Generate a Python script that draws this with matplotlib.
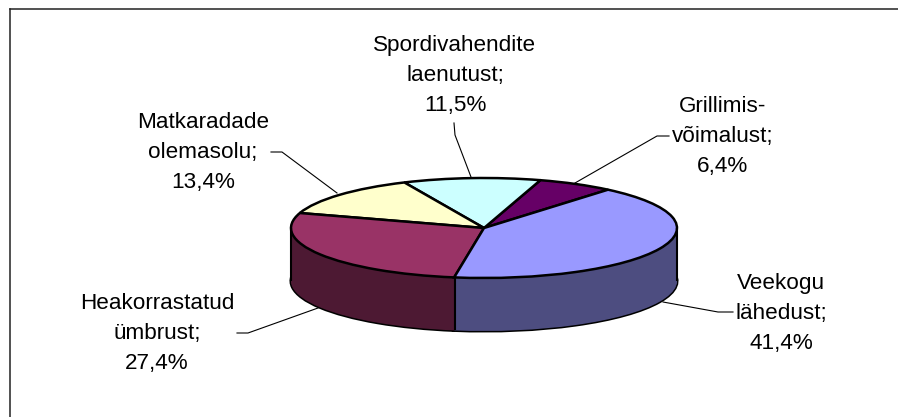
import numpy as np
import matplotlib
matplotlib.use('Agg')
import matplotlib.pyplot as plt
from matplotlib.lines import Line2D
from matplotlib.transforms import Affine2D

# andmed
kategooriad = ['Grillimis-\nvõimalust', 'Spordivahendite\nlaenutust', 'Matkaradade\nolemasolu',
               'Heakorrastatud\nümbrust', 'Veekogu\nlähedust']
osakaal = [6.4, 11.5, 13.4, 27.4, 41.4]
varvid = ['#660066', '#CCFFFF', '#FFFFCC', '#993366', '#9999FF']
kylg_varvid = ['#330033', '#668080', '#808066', '#4D1933', '#4D4D80']

W, H = 898, 417
CX, CY, RX, RY, SYGAVUS = 484, 228, 193, 50, 53

plt.rcParams['font.family'] = ['Liberation Sans', 'DejaVu Sans']
fig = plt.figure(figsize=(W / 100, H / 100), dpi=100, facecolor='white')
ax = fig.add_axes([0, 0, 1, 1])

# pikslid -> joonis (y alla)
px = Affine2D().scale(1 / W, -1 / H).translate(0, 1) + fig.transFigure

# kulgsein: virn pirukaid alt ules
d = SYGAVUS / RY
ax.pie(osakaal, colors=kylg_varvid, startangle=50, center=(0, -d), radius=1,
       wedgeprops={'edgecolor': 'black', 'linewidth': 2.2})
for dy in np.linspace(d, 0.02, 60):
    ax.pie(osakaal, colors=kylg_varvid, startangle=50, center=(0, -dy), radius=1,
           wedgeprops={'linewidth': 0})

# ulemine pind
ax.pie(osakaal, colors=varvid, startangle=50, center=(0, 0), radius=1,
       wedgeprops={'edgecolor': 'black', 'linewidth': 1.8})

ax.set_aspect('auto')
ax.set_xlim(-CX / RX, (W - CX) / RX)
ax.set_ylim((CY - H) / RY, CY / RY)
ax.axis('off')

# kulje servad ja esiserv
nurk = np.deg2rad(50 + 3.6 * sum(osakaal[:4]))
for x, y in [(-1, 0), (1, 0), (np.cos(nurk), np.sin(nurk))]:
    ax.plot([x, x], [y, y - d], color='black', lw=1.5, solid_capstyle='butt')

# raam (ainult vasak ja ulemine)
fig.add_artist(Line2D([9.5, 9.5], [417, 9.5], color='#222222', lw=1.1, transform=px))
fig.add_artist(Line2D([9.5, 898], [9.5, 9.5], color='#222222', lw=1.1, transform=px))

# sildid
sildi_koht = [(723, 136.5), (455, 75.5), (203, 152.5), (157, 333.5), (781, 313.5)]
juhtjooned = [
    [(669, 136), (657, 136), (575, 183)],
    [(454, 123), (455, 135), (471, 177)],
    [(271, 152), (282, 152), (337, 193)],
    [(237, 333), (248, 333), (318, 308)],
    [(733, 312), (718, 312), (663, 302)],
]
for nimi, v, koht, joon in zip(kategooriad, osakaal, sildi_koht, juhtjooned):
    silt = f'{nimi};\n{v:.1f}%'.replace('.', ',')
    fig.text(koht[0], koht[1], silt, transform=px, ha='center', va='center',
             fontsize=16.2, linespacing=1.54, color='black')
    xs, ys = zip(*joon)
    fig.add_artist(Line2D(xs, ys, color='black', lw=0.8, transform=px))

fig.savefig('out.png', dpi=100)
